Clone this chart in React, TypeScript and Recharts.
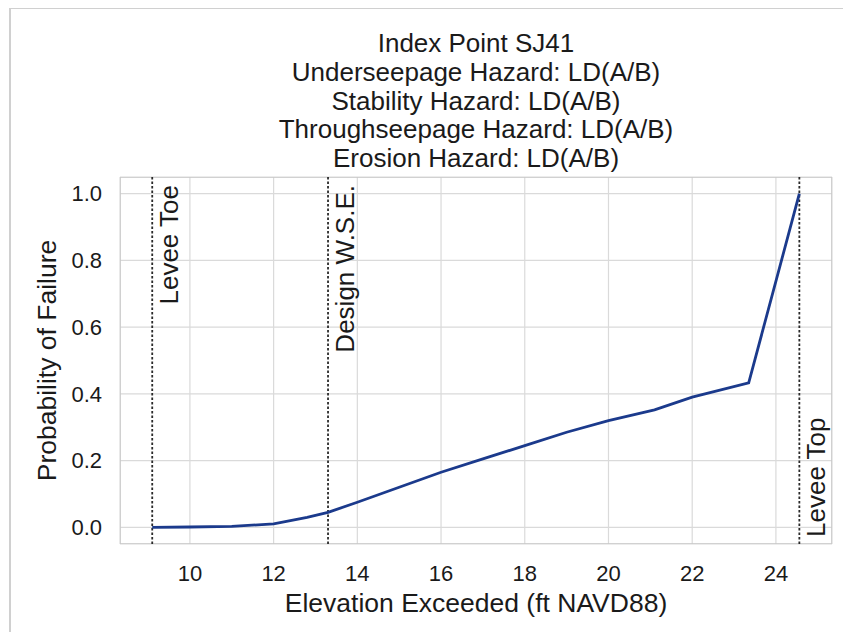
import React from "react";
import {
  CartesianGrid,
  Line,
  LineChart,
  ReferenceArea,
  ReferenceLine,
  XAxis,
  YAxis,
} from "recharts";

// elevation (ft NAVD88) vs probability of failure
const ELEVATION = [9.1, 10, 11, 12, 12.8, 13.3, 14, 15, 16, 17, 18, 19, 20, 21.1, 22, 23.35, 24.56];
const PROB_FAILURE = [0, 0.001, 0.003, 0.01, 0.03, 0.045, 0.075, 0.12, 0.165, 0.205, 0.245, 0.285, 0.32, 0.352, 0.39, 0.433, 1.0];

const X_TICKS = [10, 12, 14, 16, 18, 20, 22, 24];
const Y_TICKS = [0, 0.2, 0.4, 0.6, 0.8, 1.0];
const X_DOMAIN: [number, number] = [8.33, 25.34];
const Y_DOMAIN: [number, number] = [-0.05, 1.05];

const MARKERS = [
  { x: 9.1, label: "Levee Toe", at: "top" },
  { x: 13.3, label: "Design W.S.E.", at: "top" },
  { x: 24.56, label: "Levee Top", at: "bottom" },
];

const TITLE_LINES = [
  "Index Point SJ41",
  "Underseepage Hazard: LD(A/B)",
  "Stability Hazard: LD(A/B)",
  "Throughseepage Hazard: LD(A/B)",
  "Erosion Hazard: LD(A/B)",
];

const data = ELEVATION.map((x, i) => ({ x, p: PROB_FAILURE[i] }));

const FONT = '"Liberation Sans", Arial, Helvetica, sans-serif';
const INK = "#1a1a1a";

// rotated marker text next to a dotted reference line
function MarkerLabel(props: any) {
  const { viewBox, text, at } = props;
  if (!viewBox) return null;
  const top = at === "top";
  const ty = top ? viewBox.y + 8 : viewBox.y + viewBox.height - 7;
  return (
    <text
      transform={`translate(${viewBox.x + 26},${ty}) rotate(-90)`}
      textAnchor={top ? "end" : "start"}
      fontSize={26}
      fontFamily={FONT}
      fill={INK}
    >
      {text}
    </text>
  );
}

function YLabel(props: any) {
  const { viewBox } = props;
  if (!viewBox) return null;
  const cy = viewBox.y + viewBox.height / 2;
  return (
    <text
      transform={`translate(${viewBox.x + 48},${cy}) rotate(-90)`}
      textAnchor="middle"
      fontSize={26.5}
      fontFamily={FONT}
      fill={INK}
    >
      Probability of Failure
    </text>
  );
}

function XLabel(props: any) {
  const { viewBox } = props;
  if (!viewBox) return null;
  return (
    <text
      x={viewBox.x + viewBox.width / 2}
      y={viewBox.y + 68}
      textAnchor="middle"
      fontSize={26.5}
      fontFamily={FONT}
      fill={INK}
    >
      Elevation Exceeded (ft NAVD88)
    </text>
  );
}

export default function App() {
  return (
    <div
      style={{
        position: "relative",
        width: 835,
        height: 624,
        background: "#fff",
        fontFamily: FONT,
      }}
    >
      {/* faint frame of the scanned page */}
      <div
        style={{
          position: "absolute",
          left: 1,
          top: -1,
          right: -6,
          bottom: -2,
          borderTop: "2px solid #d0d0d0",
          borderLeft: "2px solid #d0d0d0",
          borderRight: "1px solid #e4e4e4",
        }}
      />
      <LineChart
        width={835}
        height={624}
        data={data}
        margin={{ top: 169, right: 11, left: 0, bottom: 28 }}
      >
        <CartesianGrid stroke="#dadada" strokeWidth={1.2} />
        <ReferenceArea
          x1={X_DOMAIN[0]}
          x2={X_DOMAIN[1]}
          y1={Y_DOMAIN[0]}
          y2={Y_DOMAIN[1]}
          fill="none"
          stroke="#c8c8c8"
          strokeWidth={1.5}
          ifOverflow="hidden"
        />
        <XAxis
          dataKey="x"
          type="number"
          domain={X_DOMAIN}
          ticks={X_TICKS}
          allowDataOverflow
          height={60}
          axisLine={false}
          tickLine={false}
          tickSize={0}
          tickMargin={21}
          tick={{ fontSize: 22, fill: INK, fontFamily: FONT }}
          label={<XLabel />}
        />
        <YAxis
          type="number"
          domain={Y_DOMAIN}
          ticks={Y_TICKS}
          allowDataOverflow
          width={112}
          axisLine={false}
          tickLine={false}
          tickSize={0}
          tickMargin={18}
          tickFormatter={(v: number) => v.toFixed(1)}
          tick={{ fontSize: 22, fill: INK, fontFamily: FONT }}
          label={<YLabel />}
        />
        {MARKERS.map((m) => (
          <ReferenceLine
            key={m.label}
            x={m.x}
            stroke="#2a2a2a"
            strokeWidth={1.8}
            strokeDasharray="2.5 2"
            label={<MarkerLabel text={m.label} at={m.at} />}
          />
        ))}
        <Line
          type="linear"
          dataKey="p"
          stroke="#1b3a8c"
          strokeWidth={2.8}
          dot={false}
          isAnimationActive={false}
        />
      </LineChart>
      <svg
        width={835}
        height={624}
        style={{ position: "absolute", left: 0, top: 0, pointerEvents: "none" }}
      >
        {TITLE_LINES.map((t, i) => (
          <text
            key={t}
            x={468}
            y={44 + i * 28.75}
            textAnchor="middle"
            fontSize={26}
            fontFamily={FONT}
            fill={INK}
          >
            {t}
          </text>
        ))}
      </svg>
    </div>
  );
}
